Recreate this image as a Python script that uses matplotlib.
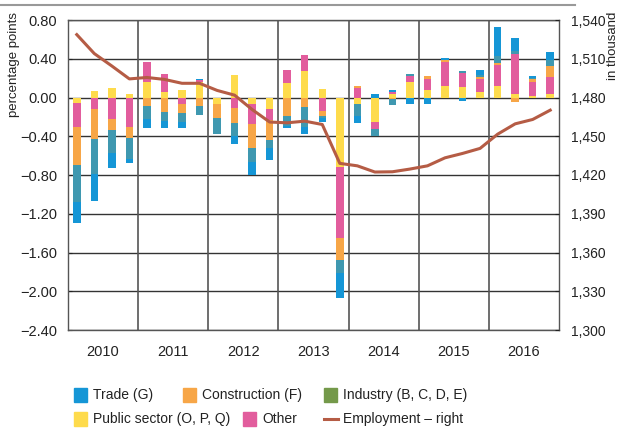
import matplotlib
matplotlib.use("Agg")
import matplotlib.pyplot as plt
from matplotlib.patches import Rectangle
from matplotlib.lines import Line2D
from matplotlib import font_manager
import numpy as np

names = {f.name for f in font_manager.fontManager.ttflist}
fam = 'Liberation Sans Narrow' if 'Liberation Sans Narrow' in names else 'Liberation Sans'
plt.rcParams['font.family'] = [fam, 'DejaVu Sans']

years = ['2010', '2011', '2012', '2013', '2014', '2015', '2016']

public = [-0.055, 0.07, 0.093, 0.034,
          0.161, 0.052, 0.075, 0.161,
          -0.066, 0.231, -0.072, -0.114,
          0.147, 0.275, 0.085, -0.715,
          -0.069, -0.251, 0.041, 0.158,
          0.075, 0.116, 0.113, 0.058,
          0.116, 0.034, 0.012, 0.041]
other = [-0.251, -0.12, -0.223, -0.306,
         0.206, 0.186, -0.062, 0.017,
         0.0, -0.107, -0.197, -0.114,
         0.135, 0.166, -0.14, -0.739,
         0.103, -0.079, 0.016, 0.069,
         0.12, 0.25, 0.14, 0.134,
         0.216, 0.412, 0.147, 0.171]
construction = [-0.395, -0.313, -0.113, -0.107,
                -0.09, -0.152, -0.097, -0.083,
                -0.141, -0.152, -0.252, -0.207,
                -0.19, -0.10, -0.048, -0.224,
                0.016, 0.0, -0.018, 0.0,
                0.024, 0.025, 0.0, 0.02,
                0.024, -0.045, 0.028, 0.113]
industry = [-0.381, -0.361, -0.234, -0.22,
            -0.137, -0.09, -0.093, -0.093,
            -0.169, -0.141, -0.145, -0.086,
            -0.10, -0.20, -0.027, -0.13,
            -0.124, -0.069, -0.062, 0.013,
            0.0, 0.0, 0.018, 0.017,
            0.069, 0.034, 0.01, 0.059]
trade = [-0.21, -0.275, -0.155, -0.045,
         -0.087, -0.072, -0.062, 0.017,
         0.0, -0.083, -0.138, -0.128,
         -0.025, -0.076, -0.035, -0.264,
         -0.069, 0.041, 0.025, -0.072,
         -0.062, 0.02, -0.035, 0.059,
         0.302, 0.137, 0.028, 0.082]
employment = [1528.7, 1514.0, 1504.4, 1494.4,
              1495.5, 1494.0, 1491.0, 1491.0,
              1485.5, 1481.8, 1470.7, 1461.0,
              1460.4, 1461.7, 1459.1, 1429.0,
              1427.1, 1422.3, 1422.5, 1424.6,
              1427.1, 1433.3, 1436.7, 1440.6,
              1451.6, 1459.6, 1463.0, 1470.2]

left_ticks = [0.80, 0.40, 0.00, -0.40, -0.80, -1.20, -1.60, -2.00, -2.40]
right_ticks = [1540, 1510, 1480, 1450, 1420, 1390, 1360, 1330, 1300]

legend_labels = ['Trade (G)', 'Construction (F)', 'Industry (B, C, D, E)',
                 'Public sector (O, P, Q)', 'Other', 'Employment \u2013 right']

C_TRADE = '#1596d6'
C_CONSTR = '#f7a647'
C_IND_LEG = '#74994a'
C_IND_BAR = '#3f98b0'
C_PUBLIC = '#fedb4c'
C_OTHER = '#e25d9d'
C_EMP = '#b55c45'
TXT = '#222222'

W, H = 622, 430
fig = plt.figure(figsize=(W/100, H/100), dpi=100)
ax = fig.add_axes([68/W, 1-330/H, (559-68)/W, 310/H])
ax2 = ax.twinx()

n = len(public)
x = np.arange(n) / 4 + 0.125
width = 0.107

series = [(public, C_PUBLIC), (other, C_OTHER), (construction, C_CONSTR),
          (industry, C_IND_BAR), (trade, C_TRADE)]
pos = np.zeros(n)
neg = np.zeros(n)
for vals, col in series:
    v = np.array(vals)
    p = np.where(v > 0, v, 0)
    m = np.where(v < 0, v, 0)
    ax.bar(x, p, width, bottom=pos, color=col, edgecolor='none', zorder=3)
    ax.bar(x, m, width, bottom=neg, color=col, edgecolor='none', zorder=3)
    pos += p
    neg += m

ax.set_xlim(0, 7)
ax.set_ylim(-2.40, 0.80)
ax.set_yticks(left_ticks)
ax.set_yticklabels([f"{t:.2f}".replace('-', '\u2212') for t in left_ticks])
ax.set_xticks(np.arange(7) + 0.5)
ax.set_xticklabels(years)
ax.tick_params(axis='x', length=0, pad=11, labelsize=10.5, colors=TXT)
ax.tick_params(axis='y', length=3, direction='in', pad=8, labelsize=10.5, colors=TXT)
for t in left_ticks:
    ax.axhline(t, color='#333333', lw=1.0, zorder=1)
for yv in range(1, 7):
    ax.axvline(yv, color='#555555', lw=1.2, zorder=1)
for s in ax.spines.values():
    s.set_color('#555555')
    s.set_linewidth(1.0)

ax2.set_ylim(1300, 1540)
ax2.set_yticks(right_ticks)
ax2.set_yticklabels([f"{t:,}" for t in right_ticks])
ax2.tick_params(axis='y', length=3, direction='in', pad=9, labelsize=10, colors=TXT)
ax2.plot(x, employment, color=C_EMP, lw=2.2, zorder=4)
for s in ax2.spines.values():
    s.set_visible(False)

fig.text(14/W, 1-12/H, 'percentage points', rotation=90, ha='center', va='top',
         fontsize=9.5, color=TXT)
fig.text(613/W, 1-12/H, 'in thousand', rotation=90, ha='center', va='top',
         fontsize=9.5, color=TXT)

fig.add_artist(Line2D([0, 575/W], [1-5/H, 1-5/H], color='#999999', lw=1.5))

# legend drawn as two free-flowing rows, like the reference
row_y = [395, 419]
items = [
    (74, row_y[0], 'patch', C_TRADE, legend_labels[0]),
    (183, row_y[0], 'patch', C_CONSTR, legend_labels[1]),
    (324, row_y[0], 'patch', C_IND_LEG, legend_labels[2]),
    (74, row_y[1], 'patch', C_PUBLIC, legend_labels[3]),
    (243, row_y[1], 'patch', C_OTHER, legend_labels[4]),
    (324, row_y[1], 'line', C_EMP, legend_labels[5]),
]
for px, py, kind, col, lab in items:
    if kind == 'patch':
        fig.add_artist(Rectangle((px/W, 1-(py+7)/H), 13/W, 14/H,
                                 transform=fig.transFigure, color=col))
    else:
        fig.add_artist(Line2D([px/W, (px+14)/W], [1-py/H, 1-py/H],
                              color=col, lw=2.2))
    fig.text((px+19)/W, 1-py/H, lab, ha='left', va='center',
             fontsize=10, color=TXT)

fig.savefig('out.png', dpi=100)
